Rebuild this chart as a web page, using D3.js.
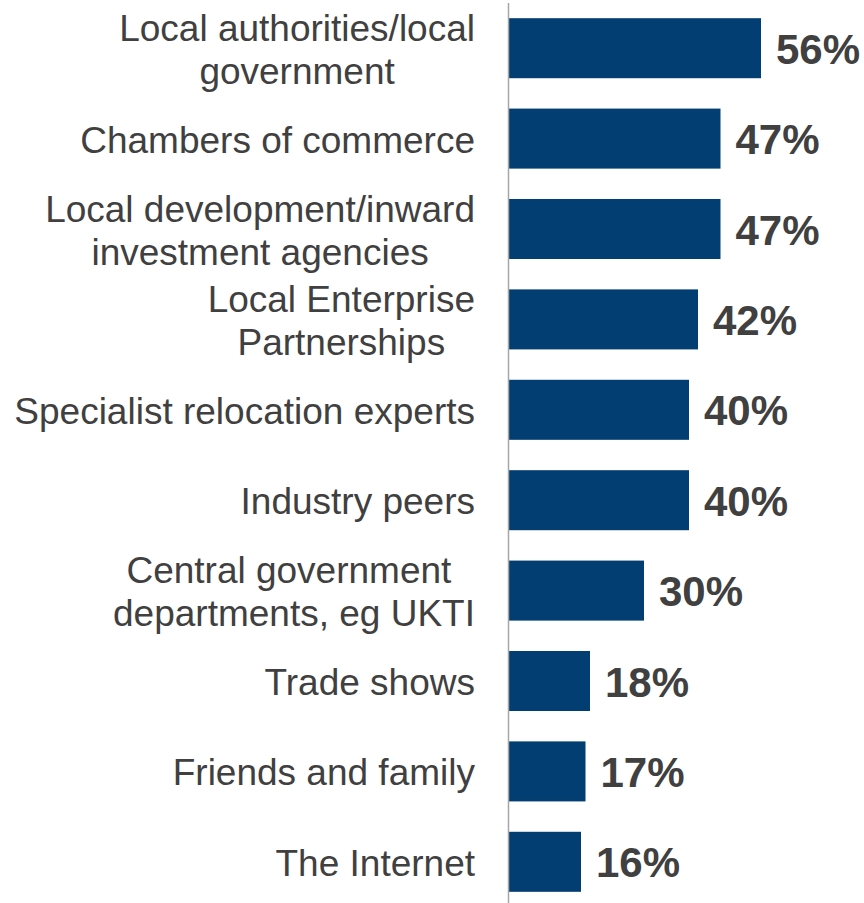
<!DOCTYPE html>
<html>
<head>
<meta charset="utf-8">
<script src="https://cdn.jsdelivr.net/npm/d3@7"></script>
<style>
  html, body { margin: 0; padding: 0; background: #ffffff; }
  svg { display: block; }
</style>
</head>
<body>
<svg id="chart" width="864" height="903"></svg>
<script>
// Sources of advice used, share of respondents (%)
const categories = [
  ["Local authorities/local", "government"],
  ["Chambers of commerce"],
  ["Local development/inward", "investment agencies"],
  ["Local Enterprise", "Partnerships"],
  ["Specialist relocation experts"],
  ["Industry peers"],
  ["Central government ", "departments, eg UKTI"],
  ["Trade shows"],
  ["Friends and family"],
  ["The Internet"]
];
const values = [56, 47, 47, 42, 40, 40, 30, 18, 17, 16];
const valueLabels = values.map(v => v + "%");

const W = 864, H = 903;
const axisX = 509;
const labelRight = 475;
const barColor = "#033e72";
const textColor = "#404040";
const font = "'Liberation Sans', Arial, sans-serif";

const svg = d3.select("#chart");

const ids = categories.map((_, i) => i);
const y = d3.scaleBand()
  .domain(ids)
  .range([3, 907])
  .paddingInner(0.336)
  .paddingOuter(0.168);

const x = d3.scaleLinear()
  .domain([0, 100])
  .range([axisX, axisX + 450]);

// bars
svg.append("g")
  .selectAll("rect")
  .data(values)
  .join("rect")
  .attr("x", x(0))
  .attr("y", (d, i) => y(i))
  .attr("width", d => x(d) - x(0))
  .attr("height", y.bandwidth())
  .attr("fill", barColor);

// category axis line
svg.append("line")
  .attr("x1", axisX - 0.5).attr("x2", axisX - 0.5)
  .attr("y1", 3).attr("y2", H)
  .attr("stroke", "#a6a6a6")
  .attr("stroke-width", 1.5);

// category labels (multi-line labels are centred as a block, right-aligned to the axis)
const lineGap = 43;
const catG = svg.append("g")
  .attr("font-family", font)
  .attr("font-size", 37)
  .attr("fill", textColor);

categories.forEach((lines, i) => {
  const cy = y(i) + y.bandwidth() / 2;
  const t = catG.append("text").attr("text-anchor", "middle");
  const n = lines.length;
  const spans = lines.map((ln, k) =>
    t.append("tspan")
      .attr("y", cy + (k - (n - 1) / 2) * lineGap + 14)
      .text(ln)
  );
  const maxW = d3.max(spans, s => s.node().getComputedTextLength());
  spans.forEach(s => s.attr("x", labelRight - maxW / 2));
});

// value labels
svg.append("g")
  .attr("font-family", font)
  .attr("font-size", 42)
  .attr("font-weight", "bold")
  .attr("fill", textColor)
  .selectAll("text")
  .data(values)
  .join("text")
  .attr("x", d => x(d) + 15)
  .attr("y", (d, i) => y(i) + y.bandwidth() / 2 + 15.5)
  .text((d, i) => valueLabels[i]);
</script>
</body>
</html>
